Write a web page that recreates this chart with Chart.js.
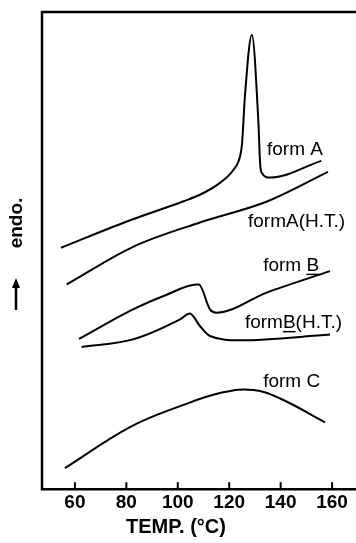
<!DOCTYPE html>
<html>
<head>
<meta charset="utf-8">
<script src="https://cdn.jsdelivr.net/npm/chart.js@4"></script>
<style>
html,body{margin:0;padding:0;background:#fff;}
#wrap{width:356px;height:543px;position:relative;}
</style>
</head>
<body>
<div id="wrap"><canvas id="dscChart"></canvas></div>
<script>
// DSC curves, temperature in degC, heat flow in arbitrary units (offset per curve)
const formA_T = [54.6, 80.2, 102.0, 108.6, 116.4, 121.6, 124.2, 125.0, 126.1, 128.8, 131.3, 132.0, 132.6, 135.9, 155.8];
const formA_Y = [50.6, 56.1, 60.3, 61.7, 64.2, 66.9, 69.7, 72.5, 82.3, 95.2, 77.4, 68.4, 66.3, 65.3, 68.8];

const formAHT_T = [56.8, 82.6, 108.6, 134.7, 158.4];
const formAHT_Y = [42.9, 50.8, 55.9, 60.3, 66.5];

const formB_T = [61.6, 82.6, 95.0, 107.4, 108.2, 112.5, 115.1, 134.6, 159.2];
const formB_Y = [31.5, 37.7, 40.6, 42.9, 42.9, 37.7, 37.0, 41.2, 45.7];

const formBHT_T = [62.6, 82.6, 100.9, 104.7, 108.6, 112.5, 124.2, 159.2];
const formBHT_Y = [29.8, 31.4, 35.6, 36.8, 34.2, 32.1, 31.2, 32.4];

const formC_T = [56.1, 81.4, 100.9, 117.6, 129.4, 139.8, 157.3];
const formC_Y = [4.4, 13.0, 17.4, 20.3, 20.8, 19.0, 14.0];

const tickValues = [60, 80, 100, 120, 140, 160];

const curveLabels = ['form A', 'formA(H.T.)', 'form B', 'formB(H.T.)', 'form C'];
const labelT = [134.7, 127.3, 133.2, 126.1, 133.2];
const labelY = [71.1, 56.1, 46.9, 34.9, 22.6];

const axisTitle = 'TEMP. (°C)';
const axisTitleT = 99.3;

function toPoints(xs, ys) {
    return xs.map((v, i) => ({x: v, y: ys[i]}));
}

const series = [
    toPoints(formA_T, formA_Y),
    toPoints(formAHT_T, formAHT_Y),
    toPoints(formB_T, formB_Y),
    toPoints(formBHT_T, formBHT_Y),
    toPoints(formC_T, formC_Y)
];

const fontFam = '"Liberation Sans", Arial, sans-serif';

const framePlugin = {
    id: 'frame',
    afterDraw(chart) {
        const ctx = chart.ctx;
        const a = chart.chartArea;
        const x = chart.scales.x, y = chart.scales.y;
        ctx.save();
        ctx.strokeStyle = '#000';
        ctx.lineWidth = 2.5;
        ctx.beginPath();
        ctx.moveTo(a.right, a.top);
        ctx.lineTo(a.left, a.top);
        ctx.lineTo(a.left, a.bottom);
        ctx.lineTo(a.right, a.bottom);
        ctx.stroke();

        // ticks point up into the plot
        ctx.lineWidth = 2;
        tickValues.forEach(v => {
            let px = x.getPixelForValue(v);
            ctx.beginPath();
            ctx.moveTo(px, a.bottom);
            ctx.lineTo(px, a.bottom - 7);
            ctx.stroke();
        });

        // curve names
        ctx.fillStyle = '#000';
        ctx.font = '19px ' + fontFam;
        ctx.textBaseline = 'middle';
        ctx.textAlign = 'left';
        curveLabels.forEach((t, i) => {
            let px = x.getPixelForValue(labelT[i]);
            let py = y.getPixelForValue(labelY[i]);
            ctx.fillText(t, px, py);
            let b = t.indexOf('B');
            if (b >= 0) {
                let x0 = px + ctx.measureText(t.slice(0, b)).width;
                let w = ctx.measureText('B').width;
                ctx.lineWidth = 1.5;
                ctx.beginPath();
                ctx.moveTo(x0, py + 9);
                ctx.lineTo(x0 + w, py + 9);
                ctx.stroke();
            }
        });

        // x axis title
        ctx.textAlign = 'center';
        ctx.font = 'bold 20px ' + fontFam;
        ctx.fillText(axisTitle, x.getPixelForValue(axisTitleT), a.bottom + 38);

        // y label and arrow
        ctx.save();
        ctx.translate(17, 223);
        ctx.rotate(-Math.PI / 2);
        ctx.textAlign = 'center';
        ctx.font = 'bold 19px ' + fontFam;
        ctx.fillText('endo.', 0, 0);
        ctx.restore();

        ctx.lineWidth = 2.5;
        ctx.beginPath();
        ctx.moveTo(16, 310);
        ctx.lineTo(16, 285);
        ctx.stroke();
        ctx.beginPath();
        ctx.moveTo(16, 278);
        ctx.lineTo(12, 288);
        ctx.lineTo(20, 288);
        ctx.closePath();
        ctx.fill();
        ctx.restore();
    }
};

let dscCtx = document.getElementById('dscChart').getContext('2d');
let dscChart = new Chart(dscCtx, {
    type: 'line',
    data: {
        datasets: series.map((s, i) => ({
            label: curveLabels[i],
            data: s,
            borderColor: '#000',
            borderWidth: 2,
            pointRadius: 0,
            fill: false,
            tension: i === 4 ? 0.4 : 0,
            cubicInterpolationMode: i === 4 ? 'default' : 'monotone'
        }))
    },
    options: {
        responsive: true,
        maintainAspectRatio: false,
        animation: false,
        layout: {padding: {left: 42, top: 12, right: 0, bottom: 27}},
        plugins: {legend: {display: false}, tooltip: {enabled: false}},
        scales: {
            x: {
                type: 'linear',
                min: 47.2,
                max: 169.3,
                afterBuildTicks: s => { s.ticks = tickValues.map(v => ({value: v})); },
                grid: {display: false, drawTicks: false},
                border: {display: false},
                ticks: {
                    color: '#000',
                    autoSkip: false,
                    maxRotation: 0,
                    padding: 2,
                    font: {family: fontFam, size: 19, weight: 'bold'}
                }
            },
            y: {
                type: 'linear',
                min: 0,
                max: 100,
                display: false
            }
        }
    },
    plugins: [framePlugin]
});
</script>
</body>
</html>
